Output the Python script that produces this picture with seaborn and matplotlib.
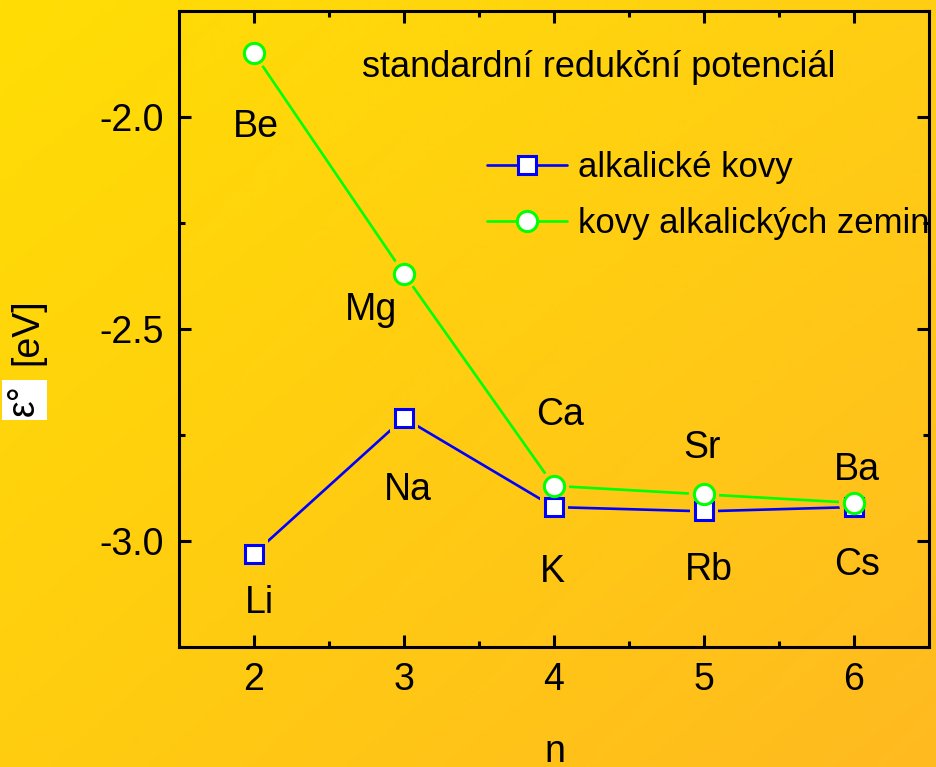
import numpy as np
import pandas as pd
import matplotlib
matplotlib.use("Agg")
import matplotlib.pyplot as plt
from matplotlib.lines import Line2D
import seaborn as sns

# ---------------- data ----------------
n_values = [2, 3, 4, 5, 6]
alkali_names = ["Li", "Na", "K", "Rb", "Cs"]
alkali_E = [-3.03, -2.71, -2.92, -2.93, -2.92]
earth_names = ["Be", "Mg", "Ca", "Sr", "Ba"]
earth_E = [-1.85, -2.37, -2.87, -2.89, -2.91]
series_labels = ["alkalické kovy", "kovy alkalických zemin"]
x_ticks = [2, 3, 4, 5, 6]
y_ticks = [-3.0, -2.5, -2.0]
title_text = "standardní redukční potenciál"

# label anchor positions (data coords, text baseline centre)
alkali_label_x = [2.033, 3.027, 3.987, 5.033, 6.02]
alkali_label_y = [-3.170, -2.903, -3.097, -3.092, -3.080]
earth_label_x = [2.013, 2.78, 4.04, 4.987, 6.02]
earth_label_y = [-2.047, -2.479, -2.726, -2.804, -2.856]

df_alk = pd.DataFrame({"n": n_values, "E": alkali_E})
df_ear = pd.DataFrame({"n": n_values, "E": earth_E})

sns.set_theme(style="ticks")
plt.rcParams["font.family"] = ["Liberation Sans", "DejaVu Sans"]
for k in ["text.color", "axes.labelcolor", "xtick.color", "ytick.color",
          "axes.edgecolor"]:
    plt.rcParams[k] = "black"

W, H = 937, 767
fig = plt.figure(figsize=(W / 100, H / 100), dpi=100)

# gradient background
TL = np.array([255, 222, 4]) / 255
TR = np.array([255, 206, 20]) / 255
BL = np.array([255, 205, 16]) / 255
BR = np.array([255, 186, 32]) / 255


def bg_color(fx, fy_top):
    return ((1 - fx) * (1 - fy_top) * TL + fx * (1 - fy_top) * TR
            + (1 - fx) * fy_top * BL + fx * fy_top * BR)


bg = fig.add_axes([0, 0, 1, 1], zorder=-10)
yy, xx = np.mgrid[0:1:200j, 0:1:240j]
img = bg_color(xx[..., None], yy[..., None])
bg.imshow(img, extent=[0, 1, 0, 1], aspect="auto", origin="upper")
bg.axis("off")

ax = fig.add_axes([179 / W, (H - 647) / H, (929 - 179) / W, (647 - 11) / H])
ax.patch.set_alpha(0)
ax.set_xlim(1.5, 6.5)
ax.set_ylim(-3.25, -1.75)

blue, green = "#0000ff", "#00ff00"
mew = 2.2
ms_sq, ms_ci = 13.4, 14.6

# connecting lines
sns.lineplot(data=df_alk, x="n", y="E", ax=ax, color=blue, lw=1.9, zorder=2)
sns.lineplot(data=df_ear, x="n", y="E", ax=ax, color=green, lw=1.9, zorder=2)


# small gaps around markers (background-coloured halos)
def halos(xs, ys, marker, size):
    pts = ax.transData.transform(np.column_stack([xs, ys]))
    f = fig.transFigure.inverted().transform(pts)
    cols = [bg_color(fx, 1 - fy) for fx, fy in f]
    ax.scatter(xs, ys, s=size ** 2, marker=marker, c=cols, edgecolors="none",
               zorder=2.5)


halos(n_values, alkali_E, "s", ms_sq + mew + 5)
halos(n_values, earth_E, "o", ms_ci + mew + 5)

# markers
sns.lineplot(data=df_alk, x="n", y="E", ax=ax, linestyle="", marker="s",
             markersize=ms_sq, markerfacecolor="white", markeredgecolor=blue,
             markeredgewidth=mew, zorder=3)
sns.lineplot(data=df_ear, x="n", y="E", ax=ax, linestyle="", marker="o",
             markersize=ms_ci, markerfacecolor="white", markeredgecolor=green,
             markeredgewidth=mew, zorder=3)

ax.set_xticks(x_ticks)
ax.set_xticklabels([str(t) for t in x_ticks])
ax.set_yticks(y_ticks)
ax.set_yticklabels([f"{t:.1f}" for t in y_ticks])
ax.set_xticks([2.5, 3.5, 4.5, 5.5], minor=True)
ax.set_yticks([-3.25, -2.75, -2.25, -1.75], minor=True)
ax.tick_params(which="both", direction="in", top=True, right=True,
               width=2.2, color="black", labelcolor="black", labelsize=27, pad=11)
ax.tick_params(which="major", length=8.6)
ax.tick_params(which="minor", length=4.3)
for s in ax.spines.values():
    s.set_linewidth(2.2)
    s.set_color("black")
ax.set_xlabel("")
ax.set_ylabel("")

for name, x, y in zip(alkali_names, alkali_label_x, alkali_label_y):
    ax.text(x, y, name, fontsize=27, ha="center", va="baseline")
for name, x, y in zip(earth_names, earth_label_x, earth_label_y):
    ax.text(x, y, name, fontsize=27, ha="center", va="baseline")

ax.text((599 - 179) / 750, (647 - 77) / 636, title_text, transform=ax.transAxes,
        fontsize=26, ha="center", va="baseline")

handles = [
    Line2D([], [], color=blue, lw=1.9, marker="s", markersize=ms_sq,
           markerfacecolor="white", markeredgecolor=blue, markeredgewidth=mew),
    Line2D([], [], color=green, lw=1.9, marker="o", markersize=ms_ci,
           markerfacecolor="white", markeredgecolor=green, markeredgewidth=mew),
]
ax.legend(handles, series_labels, loc="upper left",
          bbox_to_anchor=((487 - 179) / 750, (647 - 151) / 636),
          frameon=False, fontsize=25, handlelength=2.3, handletextpad=0.32,
          labelspacing=0.66, borderpad=0, borderaxespad=0)

# axis labels
fig.text(555 / W, (H - 762) / H, "n", fontsize=27, ha="center", va="baseline")
fig.text(27 / W, 1 - 332 / H, "[eV]", fontsize=27, rotation=90,
         ha="center", va="center")
fig.text(24 / W, 1 - 400 / H, "ε°", fontsize=27, rotation=90,
         ha="center", va="center",
         bbox=dict(boxstyle="square,pad=0.12", fc="white", ec="none"))

fig.savefig("out.png", dpi=100)
